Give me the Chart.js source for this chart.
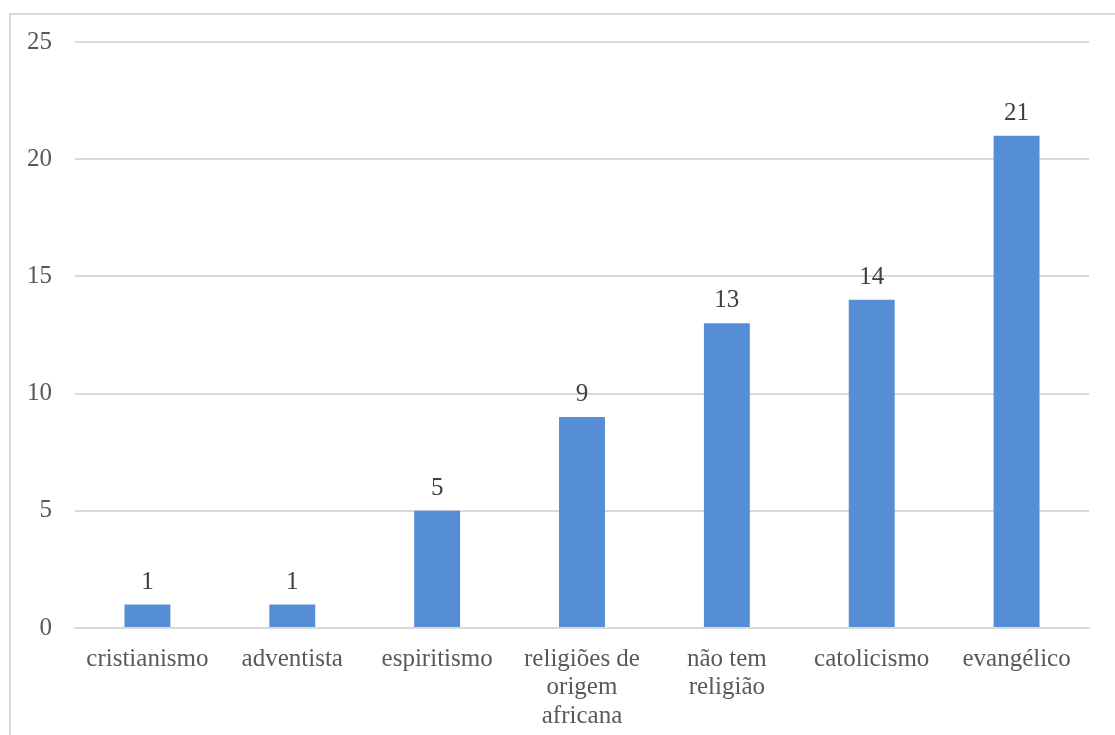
<!DOCTYPE html>
<html>
<head>
<meta charset="utf-8">
<script src="https://cdn.jsdelivr.net/npm/chart.js@4/dist/chart.umd.min.js"></script>
<style>
  html, body { margin: 0; padding: 0; background: #ffffff; }
  #wrap { position: relative; width: 1115px; height: 735px; overflow: hidden; }
  #frame { position: absolute; left: 9px; top: 13px; width: 1200px; height: 800px;
           border-top: 2px solid #d9d9d9; border-left: 2px solid #d9d9d9; }
  canvas { position: absolute; left: 0; top: 0; }
</style>
</head>
<body>
<div id="wrap">
  <div id="frame"></div>
  <canvas id="c" width="1115" height="735"></canvas>
</div>
<script>
const categories = [
  "cristianismo",
  "adventista",
  "espiritismo",
  ["religiões de", "origem", "africana"],
  ["não tem", "religião"],
  "catolicismo",
  "evangélico"
];
const values = [1, 1, 5, 9, 13, 14, 21];
const yTicks = [0, 5, 10, 15, 20, 25];

const FONT = "'Liberation Serif', 'Times New Roman', serif";
const TEXT = "#595959";

const valueLabels = {
  id: 'valueLabels',
  afterDatasetsDraw(chart) {
    const ctx = chart.ctx;
    const meta = chart.getDatasetMeta(0);
    ctx.save();
    ctx.font = "25px " + FONT;
    ctx.fillStyle = "#404040";
    ctx.textAlign = "center";
    ctx.textBaseline = "alphabetic";
    meta.data.forEach((bar, i) => {
      ctx.fillText(String(values[i]), bar.x, bar.y - 16);
    });
    ctx.restore();
  }
};

new Chart(document.getElementById('c'), {
  type: 'bar',
  data: {
    labels: categories,
    datasets: [{
      data: values,
      backgroundColor: '#558ed5',
      borderWidth: 0,
      barPercentage: 0.634,
      categoryPercentage: 0.5
    }]
  },
  options: {
    responsive: false,
    animation: false,
    devicePixelRatio: 1,
    layout: { padding: { left: 0, top: 42, right: 26, bottom: 0 } },
    plugins: {
      legend: { display: false },
      tooltip: { enabled: false }
    },
    scales: {
      x: {
        grid: { display: false, drawTicks: false },
        border: { display: true, color: '#d9d9d9', width: 2 },
        ticks: {
          color: TEXT,
          font: { family: FONT, size: 25, lineHeight: 1.14 },
          padding: 17,
          maxRotation: 0,
          autoSkip: false
        },
        afterFit(scale) { scale.height = 107; }
      },
      y: {
        min: 0,
        max: 25,
        afterBuildTicks(scale) { scale.ticks = yTicks.map(v => ({ value: v })); },
        grid: { color: '#d9d9d9', lineWidth: 2, drawTicks: false },
        border: { display: false },
        ticks: {
          color: TEXT,
          font: { family: FONT, size: 25 },
          padding: 23
        },
        afterFit(scale) { scale.width = 75; }
      }
    }
  },
  plugins: [valueLabels]
});
</script>
</body>
</html>
